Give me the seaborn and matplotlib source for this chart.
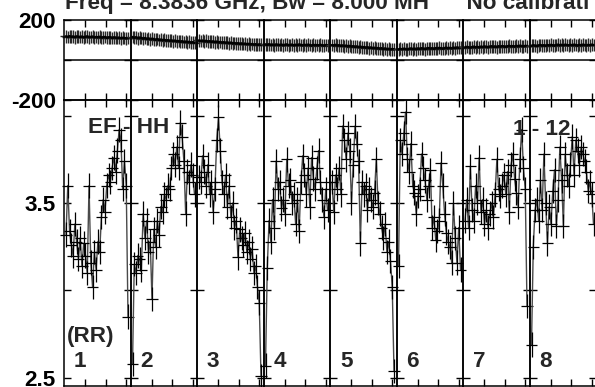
import numpy as np
import pandas as pd
import seaborn as sb
import matplotlib
matplotlib.use("Agg")
import matplotlib.pyplot as plt

# amplitude (RR, EF - HH), 36 samples per time range
amp_1 = [3.32, 3.60, 3.34, 3.26, 3.20, 3.38, 3.28, 3.18, 3.30, 3.14,
         3.27, 3.20, 3.10, 3.60, 3.16, 3.02, 3.22, 3.12, 3.28, 3.22,
         3.42, 3.52, 3.45, 3.60, 3.66, 3.62, 3.70, 3.76, 3.68, 3.80,
         3.92, 3.86, 3.58, 3.74, 3.60, 2.85]
amp_2 = [2.58, 3.15, 3.10, 3.20, 3.18, 3.12, 3.44, 3.30, 3.40, 3.22,
         3.28, 2.95, 3.35, 3.25, 3.40, 3.32, 3.48, 3.45, 3.55, 3.52,
         3.60, 3.58, 3.70, 3.78, 3.72, 3.82, 3.70, 3.96, 3.88, 3.74,
         3.44, 3.68, 3.62, 3.72, 3.66, 3.55]
amp_3 = [3.65, 3.62, 3.77, 3.68, 3.60, 3.72, 3.55, 3.62, 3.45, 3.58,
         3.86, 3.99, 3.80, 3.62, 3.55, 3.66, 3.48, 3.60, 3.42, 3.50,
         3.36, 3.40, 3.19, 3.35, 3.30, 3.26, 3.33, 3.22, 3.28, 3.18,
         3.24, 3.10, 3.14, 3.02, 2.93, 2.51]
amp_4 = [2.57, 3.13, 3.40, 3.28, 3.52, 3.36, 3.74, 3.58, 3.62, 3.47,
         3.52, 3.44, 3.75, 3.60, 3.63, 3.50, 3.55, 3.38, 3.52, 3.34,
         3.62, 3.77, 3.66, 3.55, 3.70, 3.48, 3.76, 3.64, 3.58, 3.70,
         3.80, 3.62, 3.52, 3.42, 3.58, 3.46]
amp_5 = [3.62, 3.45, 3.66, 3.58, 3.70, 3.55, 3.94, 3.86, 3.75, 3.90,
         3.80, 3.50, 3.72, 3.94, 3.84, 3.74, 3.27, 3.62, 3.55, 3.60,
         3.46, 3.58, 3.52, 3.48, 3.56, 3.75, 3.50, 3.44, 3.36, 3.30,
         3.38, 3.22, 3.28, 3.17, 3.02, 2.54]
amp_6 = [3.14, 3.86, 3.78, 3.90, 4.02, 3.75, 3.68, 3.84, 3.60, 3.56,
         3.44, 3.54, 3.58, 3.78, 3.70, 3.63, 3.52, 3.60, 3.69, 3.36,
         3.42, 3.29, 3.34, 3.40, 3.73, 3.60, 3.44, 3.33, 3.28, 3.25,
         3.16, 3.50, 3.30, 3.16, 3.36, 3.12]
amp_7 = [3.40, 3.52, 3.36, 3.71, 3.46, 3.40, 3.60, 3.50, 3.76, 3.45,
         3.52, 3.38, 3.46, 3.36, 3.44, 3.50, 3.42, 3.55, 3.75, 3.58,
         3.54, 3.60, 3.66, 3.55, 3.68, 3.45, 3.72, 3.78, 3.64, 3.56,
         3.48, 3.75, 3.92, 3.70, 3.58, 2.91]
amp_8 = [2.69, 3.25, 3.46, 3.52, 3.40, 3.63, 3.46, 3.78, 3.50, 3.27,
         3.48, 3.38, 3.57, 3.69, 3.37, 3.52, 3.82, 3.63, 3.37, 3.78,
         3.66, 3.60, 3.72, 3.88, 3.66, 3.86, 3.80, 3.72, 3.82, 3.78,
         3.74, 3.68, 3.57, 3.62, 3.55, 3.38]

# phase in degrees, same samples
phase_1 = [116, 113, 117, 114, 115, 112, 116, 114, 113, 115, 111, 114, 116, 112, 113, 115, 111, 113,
           112, 114, 110, 112, 113, 109, 111, 112, 108, 111, 110, 108, 110, 107, 109, 108, 106, 108]
phase_2 = [113, 109, 112, 107, 110, 108, 105, 108, 103, 106, 101, 104, 102, 99, 103, 98, 100, 97,
           99, 95, 97, 94, 96, 92, 95, 91, 93, 89, 92, 88, 90, 87, 89, 85, 87, 84]
phase_3 = [96, 93, 95, 91, 94, 90, 92, 89, 91, 87, 90, 86, 88, 85, 87, 84, 86, 82,
           85, 81, 83, 80, 82, 79, 81, 78, 80, 77, 79, 76, 78, 75, 77, 74, 76, 74]
phase_4 = [76, 74, 77, 73, 75, 72, 76, 74, 73, 75, 71, 74, 76, 72, 73, 75, 71, 74,
           72, 76, 73, 71, 74, 72, 75, 73, 70, 74, 72, 73, 71, 74, 72, 70, 73, 72]
phase_5 = [73, 71, 74, 70, 72, 69, 71, 68, 70, 66, 69, 65, 67, 64, 66, 62, 65, 61,
           63, 60, 62, 58, 61, 57, 59, 56, 58, 55, 57, 53, 56, 52, 54, 51, 53, 52]
phase_6 = [51, 54, 52, 55, 53, 51, 54, 56, 53, 55, 52, 56, 54, 57, 55, 53, 56, 58,
           55, 57, 54, 58, 56, 59, 57, 55, 58, 60, 57, 59, 56, 60, 58, 61, 59, 60]
phase_7 = [61, 64, 62, 60, 63, 65, 62, 64, 61, 65, 63, 66, 64, 62, 65, 67, 64, 66,
           63, 67, 65, 68, 66, 64, 67, 69, 66, 68, 65, 69, 67, 70, 68, 66, 69, 68]
phase_8 = [69, 72, 70, 68, 71, 73, 70, 72, 69, 73, 71, 74, 72, 70, 73, 75, 72, 74,
           71, 75, 73, 71, 74, 72, 75, 73, 70, 74, 72, 75, 73, 71, 74, 72, 75, 73]

seg_labels = ["1", "2", "3", "4", "5", "6", "7", "8"]
amp_err = 0.07
phase_err = 32

amps = [amp_1, amp_2, amp_3, amp_4, amp_5, amp_6, amp_7, amp_8]
phases = [phase_1, phase_2, phase_3, phase_4, phase_5, phase_6, phase_7, phase_8]
rows = []
for k in range(len(amps)):
    for i in range(len(amps[k])):
        rows.append((k, i, amps[k][i], phases[k][i]))
df = pd.DataFrame(rows, columns=["seg", "idx", "amp", "phase"])

sb.set_style("white")
plt.rcParams['font.family'] = ['Liberation Sans', 'DejaVu Sans']
plt.rcParams['font.weight'] = 'bold'

W, H = 595, 387
fig = plt.figure(figsize=(W / 100, H / 100), dpi=100)
gs = fig.add_gridspec(2, 8, left=64 / W, right=596 / W, top=1 - 19.5 / H, bottom=1 - 386 / H,
                      hspace=0, wspace=0, height_ratios=[80.5, 286])

xticks = [10.9, 22.4, 33.9]
xerr = 3.2
fs = 16.2

def style_ax(ax, first):
    ax.patch.set_visible(False)
    ax.set_xlim(-1.13, 36.41)
    ax.set_xticks(xticks)
    ax.set_xlabel("")
    ax.set_ylabel("")
    for s in ax.spines.values():
        s.set_color("black")
        s.set_linewidth(1.1)
    ax.tick_params(axis='both', direction='in', length=5, width=1, colors='black',
                   top=True, bottom=True, left=True, right=True,
                   labelbottom=False, labelleft=first, labelsize=fs, pad=6)

for k in range(8):
    d = df[df.seg == k]
    # phase panel
    ax = fig.add_subplot(gs[0, k])
    ax.axhline(0, color="black", lw=1.1)
    eb = ax.errorbar(d.idx, d.phase, yerr=phase_err, xerr=xerr, fmt='none',
                     ecolor='#2a2a2a', elinewidth=1.0, capsize=0)
    for c in eb.lines[2]:
        c.set_clip_on(False)
    sb.lineplot(data=d, x="idx", y="phase", ax=ax, color="black", lw=1.8,
                estimator=None, sort=False, legend=False)
    ax.set_ylim(-200, 200)
    ax.set_yticks([-200, 0, 200])
    ax.set_yticklabels(["-200", "", "200"], fontweight='bold')
    style_ax(ax, k == 0)

    # amplitude panel
    ax2 = fig.add_subplot(gs[1, k])
    sb.lineplot(data=d, x="idx", y="amp", ax=ax2, color="#4a4a4a", lw=1.0,
                estimator=None, sort=False, legend=False)
    eb = ax2.errorbar(d.idx, d.amp, yerr=amp_err, xerr=xerr, fmt='none',
                      ecolor='black', elinewidth=0.9, capsize=0)
    for c in eb.lines[2]:
        c.set_clip_on(False)
    ax2.set_ylim(2.454, 4.089)
    ax2.set_yticks([2.5, 3.0, 3.5, 4.0])
    ax2.set_yticklabels(["2.5", "", "3.5", ""], fontweight='bold')
    style_ax(ax2, k == 0)
    ax2.text(0.15, 0.066, seg_labels[k], transform=ax2.transAxes, fontsize=fs,
             fontweight='bold', ha='left', va='baseline')

def ftext(x, y, s):
    fig.text(x / W, 1 - y / H, s, fontsize=fs, fontweight='bold', ha='left', va='baseline')

ftext(65, 8.5, "Freq = 8.3836 GHz, Bw = 8.000 MH      No calibrati")
ftext(88, 133, "EF - HH")
ftext(513, 135, "1 - 12")
ftext(67, 342, "(RR)")

plt.savefig("out.png", dpi=100)
plt.close()
